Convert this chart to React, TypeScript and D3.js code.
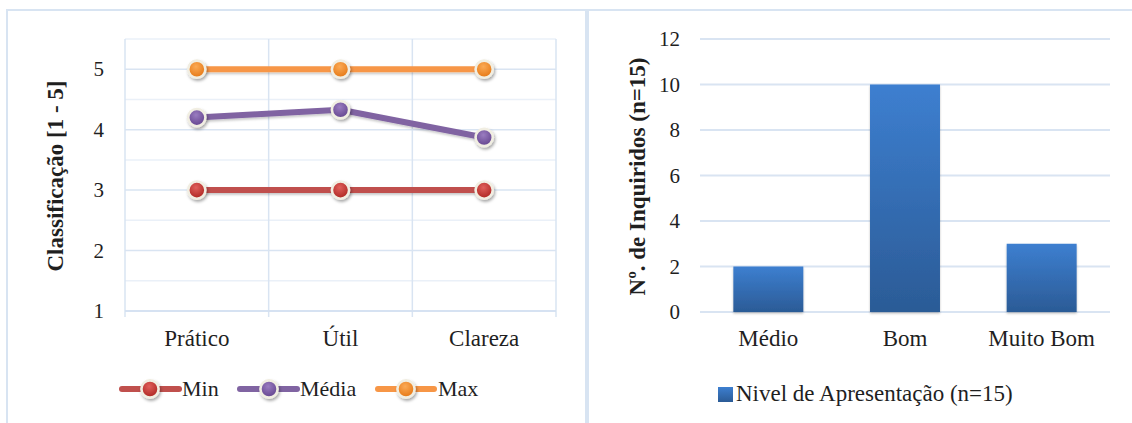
import React from "react";
import * as d3 from "d3";

// Ratings per criterion (scale 1–5)
const criteria = ["Prático", "Útil", "Clareza"];
const minValues = [3, 3, 3];
const meanValues = [4.2, 4.33, 3.87];
const maxValues = [5, 5, 5];
const ratingTicks = [1, 2, 3, 4, 5];

// Respondents per presentation level (n=15)
const levels = ["Médio", "Bom", "Muito Bom"];
const levelCounts = [2, 10, 3];
const countTicks = [0, 2, 4, 6, 8, 10, 12];

const FONT = "'Liberation Serif', 'DejaVu Serif', serif";
const TEXT = "#1f1f1f";
const GRID = "#d9e4f2";
const GRID_MINOR = "#eaf0f8";

const series = [
  { name: "Min", values: minValues, color: "#c0504d", dark: "#a8201c", light: "#e0605b" },
  { name: "Média", values: meanValues, color: "#8064a2", dark: "#5e3f8a", light: "#9a7cc0" },
  { name: "Max", values: maxValues, color: "#f79646", dark: "#e3730f", light: "#fbaa55" },
];

function Marker({ cx, cy, s }: { cx: number; cy: number; s: (typeof series)[number] }) {
  return (
    <g filter="url(#markerShadow)">
      <circle cx={cx} cy={cy} r={8.6} fill={`url(#mk-${s.name})`} stroke="#f1eee2" strokeWidth={2.6} />
    </g>
  );
}

export default function App() {
  // Left panel: line chart of ratings
  const xL = d3.scaleBand<string>().domain(criteria).range([125, 556]).padding(0);
  const yL = d3.scaleLinear().domain([1, 5.5]).range([311, 39]);
  const minorTicks = d3.range(1, 5.51, 0.5);
  const line = d3
    .line<number>()
    .x((_, i) => (xL(criteria[i]) as number) + xL.bandwidth() / 2)
    .y((v) => yL(v));
  const bounds = [...criteria.map((c) => xL(c) as number), 556];

  // Right panel: bar chart of respondents
  const xR = d3.scaleBand<string>().domain(levels).range([700, 1110]).paddingInner(0.488).paddingOuter(0.244);
  const yR = d3.scaleLinear().domain([0, 12]).range([312, 39]);

  const legendL = [
    { x0: 122, x1: 179, mx: 150, tx: 182 },
    { x0: 240, x1: 297, mx: 269, tx: 300 },
    { x0: 378, x1: 434, mx: 406, tx: 438 },
  ];

  return (
    <svg
      width={1132}
      height={423}
      viewBox="0 0 1132 423"
      style={{ position: "absolute", left: 0, top: 0, background: "#fff", fontFamily: FONT }}
    >
      <defs>
        <filter id="markerShadow" x="-60%" y="-60%" width="220%" height="220%">
          <feDropShadow dx={1.2} dy={2} stdDeviation={1.4} floodColor="#000" floodOpacity={0.35} />
        </filter>
        <filter id="lineShadow" filterUnits="userSpaceOnUse" x={0} y={0} width={1132} height={423}>
          <feDropShadow dx={0.8} dy={1.8} stdDeviation={1.2} floodColor="#000" floodOpacity={0.22} />
        </filter>
        <filter id="barShadow" x="-10%" y="-10%" width="120%" height="120%">
          <feDropShadow dx={0} dy={1.5} stdDeviation={1.2} floodColor="#000" floodOpacity={0.25} />
        </filter>
        {series.map((s) => (
          <radialGradient key={s.name} id={`mk-${s.name}`} cx="45%" cy="35%" r="70%">
            <stop offset="0%" stopColor={s.light} />
            <stop offset="100%" stopColor={s.dark} />
          </radialGradient>
        ))}
        <linearGradient id="barFill" x1="0" y1="0" x2="0" y2="1">
          <stop offset="0%" stopColor="#3d7fd0" />
          <stop offset="100%" stopColor="#2b5b96" />
        </linearGradient>
      </defs>

      {/* panel frames */}
      <rect x={7} y={10} width={579} height={430} fill="none" stroke="#d8e4f2" strokeWidth={2} />
      <rect x={588} y={10} width={560} height={430} fill="none" stroke="#d8e4f2" strokeWidth={2} />

      {/* ---------- Left: ratings ---------- */}
      {minorTicks.map((t) => (
        <line
          key={`mg${t}`}
          x1={125}
          x2={556}
          y1={yL(t)}
          y2={yL(t)}
          stroke={Number.isInteger(t) ? GRID : GRID_MINOR}
          strokeWidth={1.5}
        />
      ))}
      {bounds.map((b, i) => (
        <line key={`vb${i}`} x1={b} x2={b} y1={39} y2={317} stroke={GRID} strokeWidth={1.5} />
      ))}
      <line x1={125} x2={556} y1={yL(1)} y2={yL(1)} stroke="#d2dff0" strokeWidth={1.5} />
      {ratingTicks.map((t) => (
        <text key={`lt${t}`} x={104} y={yL(t) + 7} textAnchor="end" fontSize={21} fill={TEXT}>
          {t}
        </text>
      ))}
      {criteria.map((c) => (
        <text
          key={`lc${c}`}
          x={(xL(c) as number) + xL.bandwidth() / 2}
          y={346}
          textAnchor="middle"
          fontSize={23}
          fill={TEXT}
        >
          {c}
        </text>
      ))}
      <text
        transform="translate(63,176) rotate(-90)"
        textAnchor="middle"
        fontSize={23}
        fontWeight="bold"
        fill={TEXT}
      >
        Classificação [1 - 5]
      </text>

      {series.map((s) => (
        <path
          key={`ln${s.name}`}
          d={line(s.values) as string}
          fill="none"
          stroke={s.color}
          strokeWidth={6}
          strokeLinejoin="round"
          filter="url(#lineShadow)"
        />
      ))}
      {series.map((s) =>
        s.values.map((v, i) => (
          <Marker
            key={`m${s.name}${i}`}
            cx={(xL(criteria[i]) as number) + xL.bandwidth() / 2}
            cy={yL(v)}
            s={s}
          />
        ))
      )}

      {/* legend */}
      {series.map((s, i) => (
        <g key={`lg${s.name}`}>
          <line
            x1={legendL[i].x0}
            x2={legendL[i].x1}
            y1={389}
            y2={389}
            stroke={s.color}
            strokeWidth={6}
            strokeLinecap="round"
          />
          <Marker cx={legendL[i].mx} cy={389} s={s} />
          <text x={legendL[i].tx} y={396} fontSize={22} fill={TEXT}>
            {s.name}
          </text>
        </g>
      ))}

      {/* ---------- Right: respondents ---------- */}
      {countTicks.map((t) => (
        <line key={`rg${t}`} x1={700} x2={1110} y1={yR(t)} y2={yR(t)} stroke={GRID} strokeWidth={2} />
      ))}
      {countTicks.map((t) => (
        <text key={`rt${t}`} x={680} y={yR(t) + 7} textAnchor="end" fontSize={21} fill={TEXT}>
          {t}
        </text>
      ))}
      {levels.map((l, i) => (
        <rect
          key={`bar${l}`}
          x={xR(l) as number}
          y={yR(levelCounts[i])}
          width={xR.bandwidth()}
          height={yR(0) - yR(levelCounts[i])}
          fill="url(#barFill)"
          filter="url(#barShadow)"
        />
      ))}
      {levels.map((l) => (
        <text
          key={`rc${l}`}
          x={(xR(l) as number) + xR.bandwidth() / 2}
          y={346}
          textAnchor="middle"
          fontSize={23}
          fill={TEXT}
        >
          {l}
        </text>
      ))}
      <text
        transform="translate(645,176.5) rotate(-90)"
        textAnchor="middle"
        fontSize={23}
        fontWeight="bold"
        fill={TEXT}
      >
        Nº. de Inquiridos (n=15)
      </text>

      <rect x={718} y={387} width={15} height={15} fill="url(#barFill)" />
      <text x={736} y={401} fontSize={23} fill={TEXT}>
        Nivel de Apresentação (n=15)
      </text>
    </svg>
  );
}
